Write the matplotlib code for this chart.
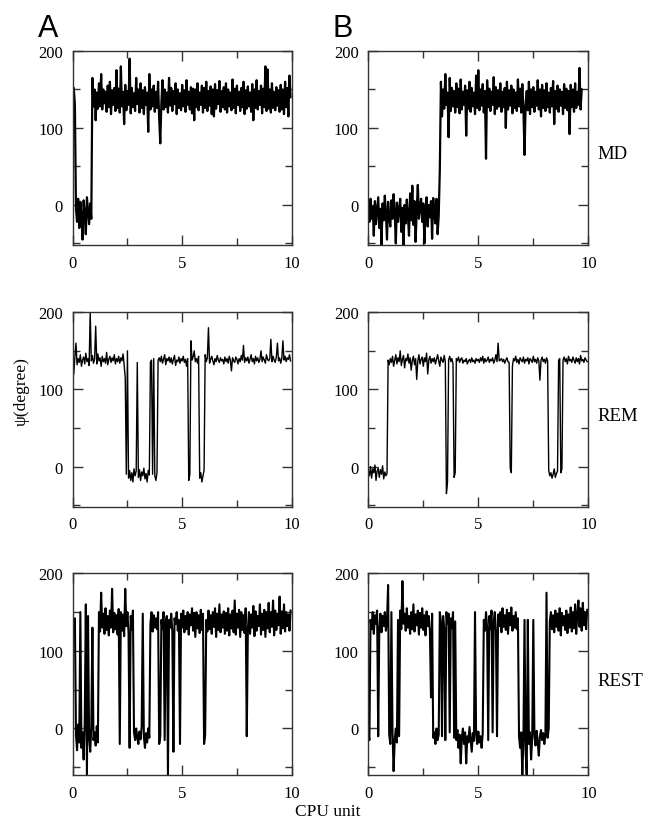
import numpy as np
import matplotlib
matplotlib.use("Agg")
import matplotlib.pyplot as plt
from matplotlib.ticker import MultipleLocator

# sampling step of the traces (CPU unit)
DT = 0.05

# column A, MD
md_a = [140, 152, 130, -5, -22, 8, -30, 4, -15, -45, 6, -12, -38, 10, -8, -25, 2, -18, 165, 128,
        150, 110, 146, 125, 158, 128, 170, 124, 150, 132, 147, 121, 155, 127, 160, 118, 149, 130, 152, 122,
        175, 126, 151, 120, 180, 128, 147, 105, 156, 123, 148, 130, 190, 119, 152, 127, 145, 122, 165, 131,
        150, 120, 158, 126, 149, 118, 153, 130, 146, 95, 170, 124, 150, 128, 155, 121, 147, 126, 160, 112,
        80, 132, 162, 124, 150, 127, 146, 120, 165, 129, 152, 122, 148, 131, 158, 118, 150, 126, 145, 123,
        156, 128, 149, 121, 162, 130, 147, 124, 153, 119, 151, 110, 150, 127, 158, 123, 146, 130, 155, 120,
        152, 126, 160, 122, 148, 129, 154, 118, 150, 115, 157, 125, 149, 131, 161, 121, 148, 127, 153, 124,
        158, 120, 150, 128, 146, 123, 163, 126, 151, 119, 155, 130, 147, 122, 152, 127, 160, 118, 149, 125,
        154, 128, 146, 121, 157, 110, 150, 126, 162, 124, 148, 130, 155, 119, 151, 127, 180, 122, 176, 125,
        150, 120, 158, 126, 147, 123, 153, 129, 149, 121, 156, 124, 150, 118, 160, 127, 152, 115, 168, 140]

# column B, MD
md_b = [0, -22, 8, -18, -2, -40, 5, -25, -8, 10, -30, -5, -52, 2, -20, 12, -12, -45, 4, -16,
        -28, 6, -18, 14, -10, -50, 3, -22, -6, 8, -35, -4, -55, 0, -24, 7, -14, -40, 15, -20,
        25, -26, 5, -48, -8, 26, -18, -3, 8, -22, 2, -50, -6, 10, -28, 0, -16, 5, -44, 9,
        -10, -24, 8, -38, -14, 45, 160, 115, 150, 125, 170, 130, 146, 88, 165, 122, 152, 128, 148, 120,
        158, 127, 151, 119, 163, 124, 147, 130, 155, 90, 149, 125, 160, 121, 152, 128, 146, 118, 168, 126,
        175, 123, 150, 129, 157, 120, 148, 60, 162, 127, 151, 122, 147, 130, 166, 118, 153, 125, 149, 128,
        158, 121, 147, 127, 152, 100, 160, 124, 149, 129, 155, 119, 150, 126, 146, 122, 163, 128, 151, 120,
        157, 125, 65, 130, 148, 123, 160, 118, 150, 127, 153, 121, 147, 129, 162, 124, 150, 115, 156, 126,
        149, 122, 158, 127, 146, 120, 152, 128, 161, 105, 148, 125, 155, 121, 150, 129, 147, 118, 157, 126,
        151, 123, 148, 92, 156, 127, 150, 121, 158, 126, 147, 130, 178, 124, 150]

# column A, REM
rem_a = [138, 120, 142, 160, 132, 140, 135, 145, 130, 138, 142, 133, 147, 136, 140, 131, 200, 137, 144, 134,
         139, 182, 133, 146, 137, 141, 130, 143, 136, 140, 134, 148, 132, 139, 143, 135, 141, 137, 145, 133,
         140, 136, 143, 134, 141, 137, 146, 132, 115, -10, 150, -15, -5, -18, -8, -20, -3, -12, -6, 135,
         -14, -4, -18, -7, -12, -2, -16, -9, -20, -5, -11, 135, 138, -10, 140, -12, -18, -8, 138, 141,
         136, 143, 134, 139, 145, 132, 140, 137, 142, 135, 141, 133, 139, 144, 131, 138, 136, 142, 134, 140,
         137, 143, 135, 139, 130, 140, -18, -10, 163, 138, 142, 150, 136, 140, 134, 143, -15, -8, -20, -12,
         -5, 145, 136, 141, 180, 134, 139, 143, 137, 132, 140, 136, 144, 138, 135, 141, 137, 139, 133, 142,
         136, 140, 134, 143, 138, 124, 141, 137, 135, 142, 139, 133, 140, 136, 144, 138, 157, 135, 141, 137,
         142, 134, 139, 145, 136, 140, 133, 143, 137, 141, 135, 139, 150, 136, 142, 138, 134, 145, 139, 137,
         140, 165, 136, 143, 138, 135, 142, 160, 137, 141, 134, 140, 163, 138, 143, 136, 141, 139, 145, 137]

# column B, REM
rem_b = [-5, -12, 0, -15, -3, -8, 2, -18, -6, -2, -14, -4, -10, 1, -16, -7, -12, -9, 138, 132,
         140, 135, 143, 130, 138, 145, 133, 141, 136, 150, 131, 139, 144, 128, 140, 137, 146, 134, 141, 125,
         138, 143, 132, 140, 113, 137, 145, 133, 139, 142, 130, 141, 136, 147, 120, 138, 143, 134, 140, 136,
         141, 133, 139, 145, 137, 130, 142, 138, 135, 144, 136, -35, -20, 138, 143, 136, 140, 133, -14, -8,
         140, 137, 142, 135, 139, 141, 134, 138, 136, 140, 133, 137, 139, 135, 141, 136, 138, 134, 140, 137,
         139, 135, 141, 137, 143, 134, 140, 136, 138, 142, 135, 139, 137, 141, 134, 138, 145, 136, 160, 137,
         138, 140, 136, 139, 134, 138, 141, 136, 135, -2, -8, 130, 140, 137, 143, 135, 139, 133, 141, 138,
         136, 142, 134, 139, 137, 141, 133, 140, 138, 135, 143, 136, 139, 134, 141, 137, 112, 138, 142, 136,
         139, 134, 141, 137, -5, -12, -8, -15, -10, -3, -14, -9, -6, 138, 140, -8, -3, 138, 142, 136,
         140, 133, 143, 137, 139, 135, 142, 138, 134, 141, 136, 140, 133, 144, 137, 139, 135, 141, 138, 136]

# column A, REST
rest_a = [148, 128, 142, -8, -28, 5, -18, 150, -25, -5, -40, 8, 160, -60, 145, -12, -30, 2, 130, -15,
          -5, -22, 3, -18, 150, 125, 175, 130, 148, 122, 155, 127, 145, 120, 152, 130, 180, 124, 149, 128,
          146, 121, 154, -20, 150, 126, 147, 119, 180, 132, 150, 124, -25, 145, 127, 152, -5, -15, 0, -12,
          -20, -4, -14, 2, 148, -10, -25, -6, -18, 0, -12, 135, 150, 125, 146, 130, 142, 128, 150, -20,
          -10, 140, 128, 150, -15, 138, 145, -60, 140, 130, 148, 125, -30, 142, 135, 150, 126, 140, -20, 148,
          130, 152, 124, 145, 128, 150, 121, 147, 133, 155, 126, 149, 118, 150, 129, 146, 123, 153, 127, 148,
          -20, -8, 140, 125, 152, 128, 146, 122, 150, 131, 155, 118, 148, 127, 160, 124, 147, 130, 151, 122,
          149, 126, 155, 120, 147, 129, 152, 124, 165, 121, 148, 130, 153, 118, 150, 127, 146, 123, 155, -10,
          128, 150, 122, 147, 130, 158, 119, 151, 126, 145, 132, 160, 121, 148, 127, 153, 118, 150, 129, 162,
          124, 150, 131, 165, 120, 152, 127, 148, 133, 170, 122, 151, 129, 160, 125, 150, 132, 147, 126, 152]

# column B, REST
rest_b = [-5, -15, 140, 128, 150, 122, 146, 135, 152, -10, 130, 148, 124, 145, 132, 150, 126, 140, 185, -8,
          -20, 150, -5, -55, -15, 0, -18, 140, -10, 152, 128, 190, 135, 148, 126, 155, 130, 145, 122, 150,
          128, 160, 125, 147, 133, 152, 121, 149, 130, 155, 127, 146, 120, 151, 132, 145, 125, 40, 148, -12,
          -5, -20, 0, -15, -8, 150, 138, -10, 145, 128, -15, 150, 135, 148, -5, 142, 130, 150, -12, 138,
          -15, -2, -25, -8, -45, -12, 0, -20, -5, -45, -10, -18, 2, -14, -30, -6, -16, 150, -8, -20,
          -4, -18, -10, -25, -6, 140, 126, 150, 130, -15, 145, 128, 152, -5, 138, 150, 125, -10, 147, 132,
          150, 124, 155, 131, 146, 127, 153, 122, 149, 133, 156, 126, 145, 130, 150, 128, 142, -10, -25, -5,
          -60, -15, 140, -30, -60, 140, -20, -5, -40, -12, 140, -8, -22, -3, -18, -35, -10, -2, -15, -6,
          -20, -8, 175, -12, 0, 138, 150, 128, 146, 124, 152, 131, 148, 126, 155, 120, 149, 133, 145, 127,
          152, 123, 147, 130, 156, 125, 150, 129, 160, 122, 148, 165, 131, 155, 126, 162, 133, 150, 128, 153]

row_names = ["MD", "REM", "REST"]
col_names = ["A", "B"]
traces = [[md_a, md_b], [rem_a, rem_b], [rest_a, rest_b]]
y_bottoms = [-52, -52, -60]
line_widths = [1.6, 1.0, 1.5]

serif = "Liberation Serif"
fig = plt.figure(figsize=(6.49, 8.29), dpi=100)

lefts = [0.1120, 0.5675]
widths = [0.3374, 0.3390]
rows_box = [(0.7033, 0.2340), (0.3876, 0.2345), (0.0639, 0.2433)]

for r in range(3):
    for c in range(2):
        ax = fig.add_axes([lefts[c], rows_box[r][0], widths[c], rows_box[r][1]])
        vals = traces[r][c]
        t = np.arange(len(vals)) * DT
        ax.plot(t, vals, color="black", lw=line_widths[r])
        ax.set_xlim(0, 10)
        ax.set_ylim(y_bottoms[r], 200)
        ax.xaxis.set_major_locator(MultipleLocator(5))
        ax.xaxis.set_minor_locator(MultipleLocator(2.5))
        ax.yaxis.set_major_locator(MultipleLocator(100))
        ax.yaxis.set_minor_locator(MultipleLocator(50))
        ax.tick_params(which="both", direction="in", top=True, right=True,
                       color="#333333", width=1.0)
        ax.tick_params(which="major", length=7, labelsize=12, pad=7)
        ax.tick_params(which="minor", length=5)
        for lab in ax.get_xticklabels() + ax.get_yticklabels():
            lab.set_fontfamily(serif)
        for sp in ax.spines.values():
            sp.set_color("#333333")
            sp.set_linewidth(1.0)
        if c == 1:
            ax.text(1.04, 0.47, row_names[r], transform=ax.transAxes,
                    fontsize=13.5, family=serif, va="center", ha="left")

# panel letters
fig.text(0.058, 0.9554, "A", fontsize=22, family="Liberation Sans", ha="left", va="baseline")
fig.text(0.512, 0.9554, "B", fontsize=22, family="Liberation Sans", ha="left", va="baseline")

fig.text(0.034, 0.528, "ψ(degree)", fontsize=12.5, family=serif, rotation=90,
         ha="center", va="center")
fig.text(0.505, 0.02, "CPU unit", fontsize=12.5, family=serif, ha="center", va="center")

fig.savefig("out.png", dpi=100)
